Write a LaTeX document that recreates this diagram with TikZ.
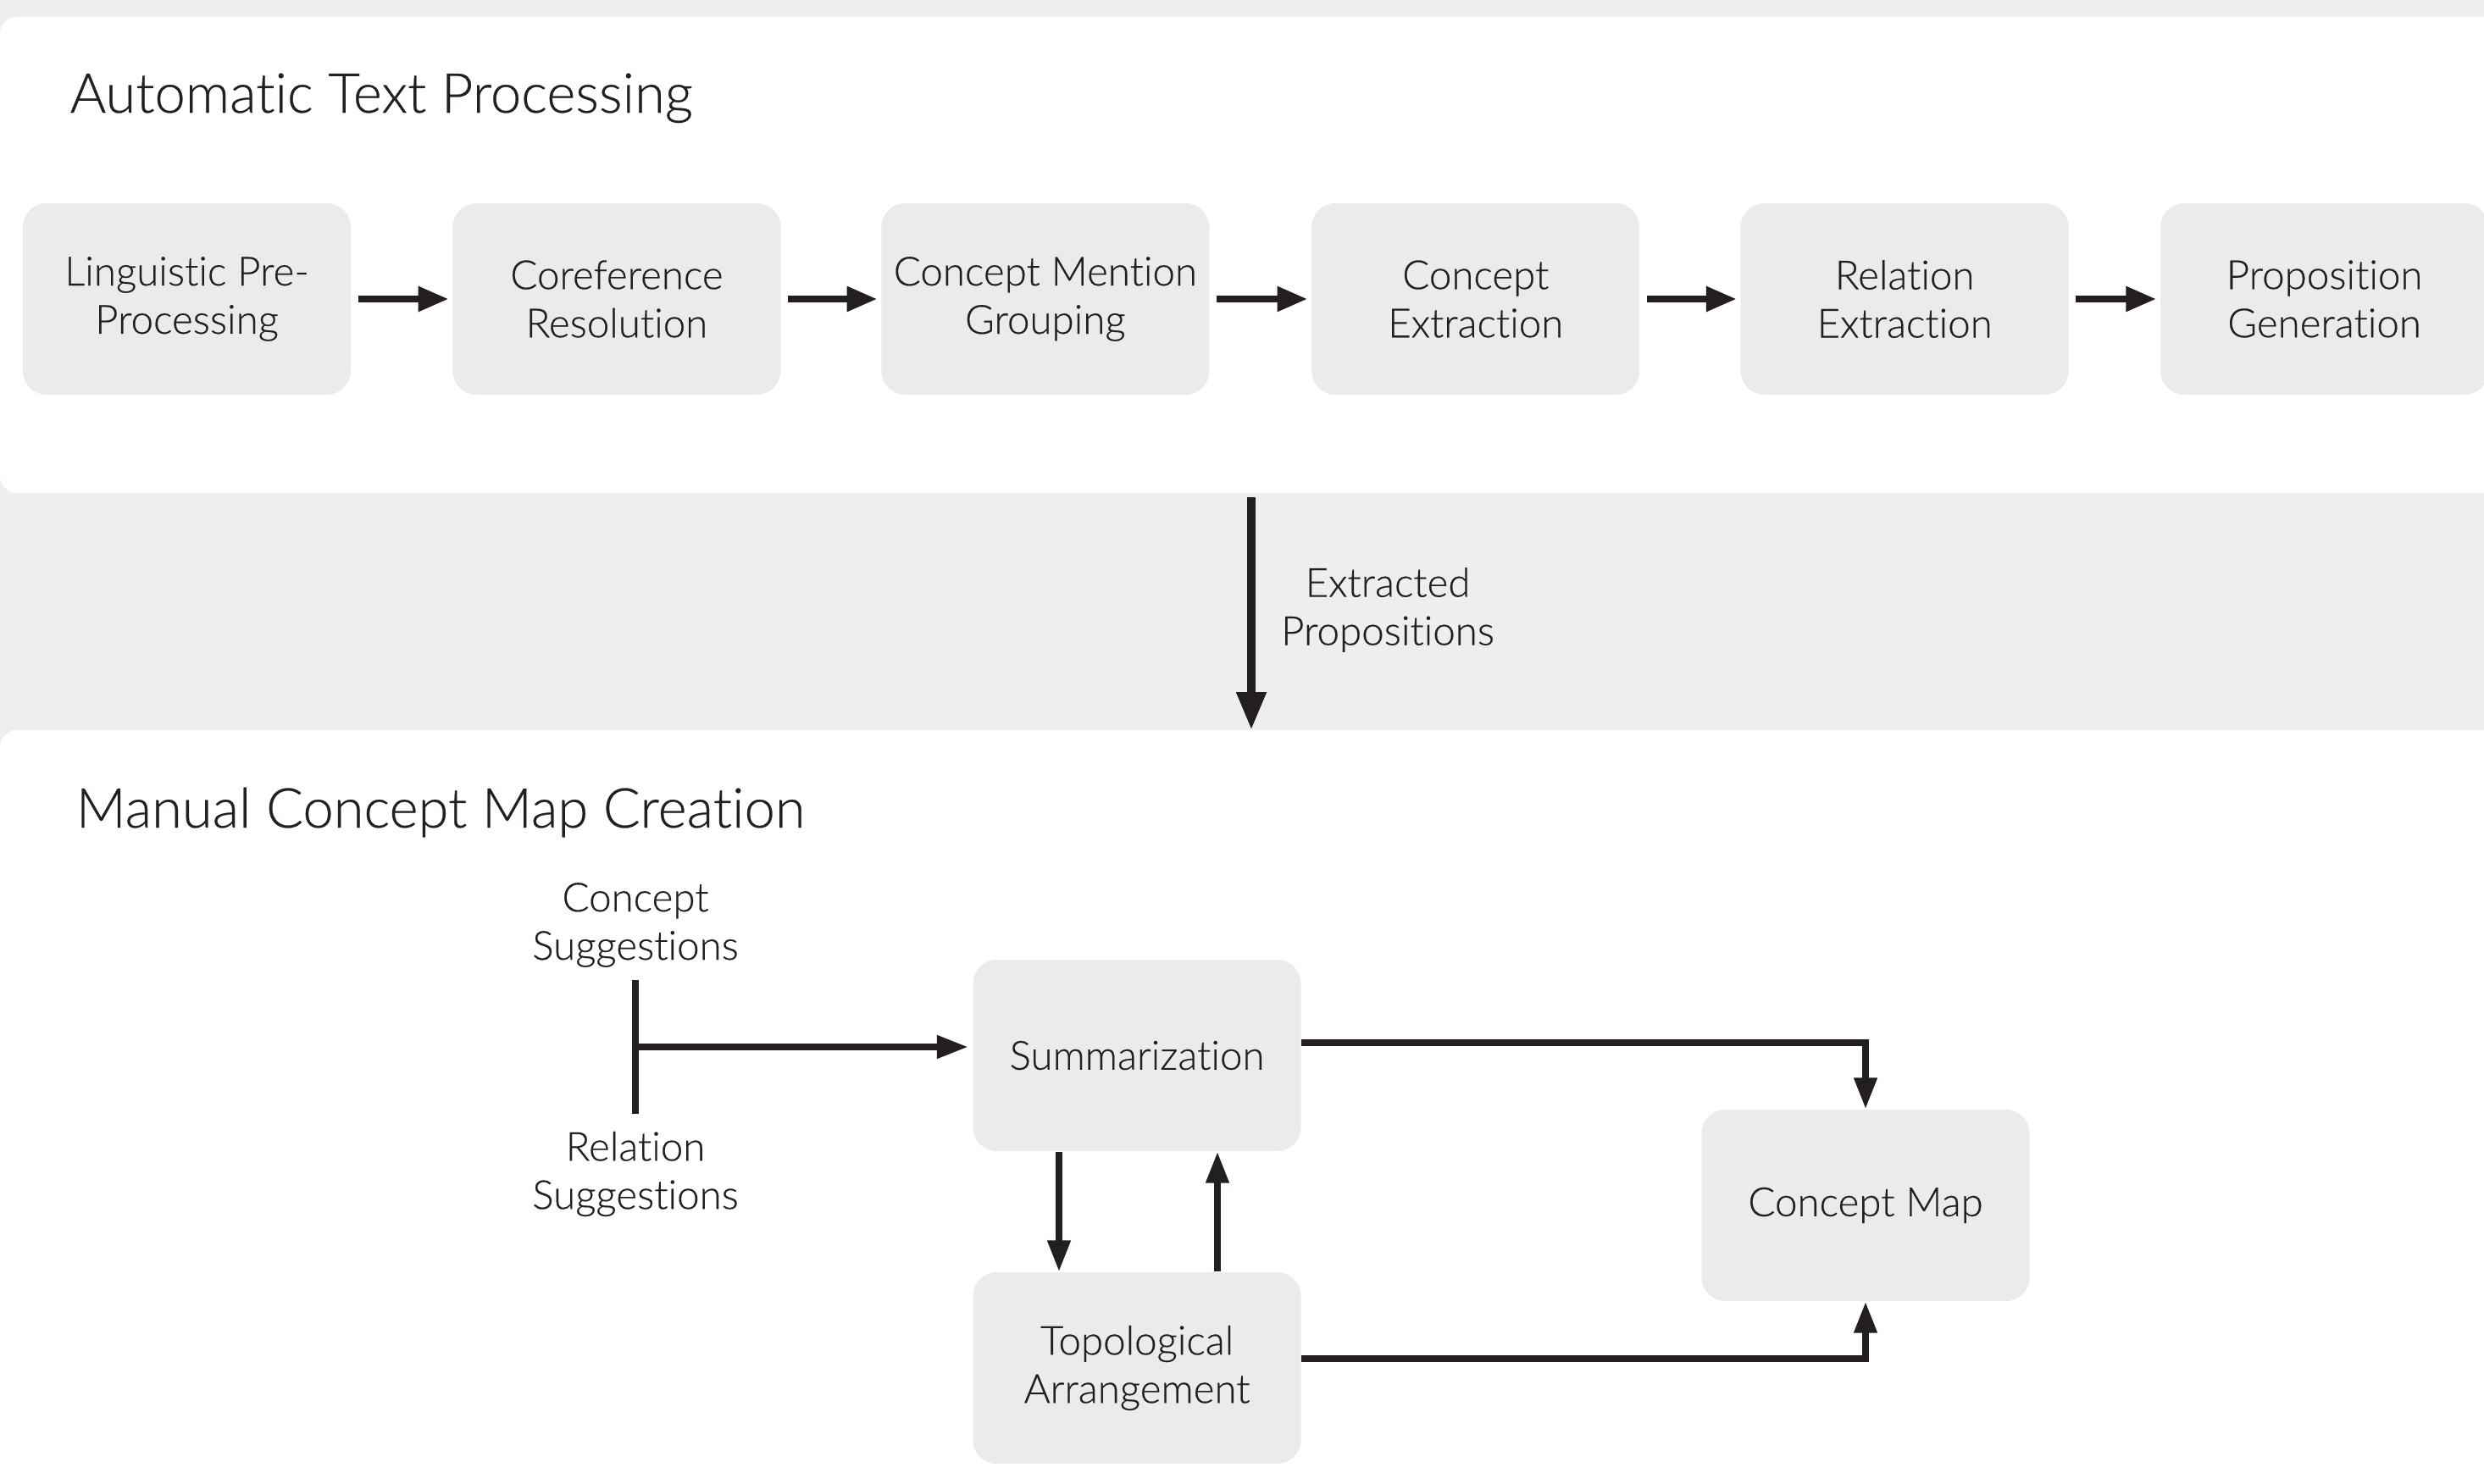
\documentclass[tikz,border=0pt]{standalone}
\usepackage{fontspec}
\IfFontExistsTF{Lato Light}
  {\setmainfont{Lato Light}[Ligatures=NoCommon,FakeBold=0.35]}
  {\setmainfont{Lato}[Ligatures=NoCommon]}
\usetikzlibrary{positioning,arrows.meta,calc}
\definecolor{ink}{HTML}{231F20}
\definecolor{boxgray}{HTML}{EBEBEA}
\definecolor{bandgray}{HTML}{EEEEEE}
\tikzset{
  procbox/.style={rectangle,rounded corners=2.8mm,fill=boxgray,minimum width=3.87cm,
    minimum height=2.26cm,inner sep=0pt,align=center,text=ink,
    font=\fontsize{13.5}{16.2}\selectfont},
  flowarr/.style={-{Triangle[length=3.6mm,width=2.8mm]},line width=2.4pt,draw=ink,
    shorten <=0.8mm,shorten >=0.4mm},
  bigarr/.style={-{Triangle[length=4.5mm,width=3.3mm]},line width=3pt,draw=ink},
  maparr/.style={-{Triangle[length=3.7mm,width=2.6mm]},line width=2.2pt,draw=ink},
  suggbar/.style={line width=2.2pt,draw=ink},
  sectitle/.style={anchor=base west,inner sep=0pt,text=ink,font=\fontsize{18.5}{21}\selectfont},
  sugg/.style={align=center,text=ink,font=\fontsize{13.5}{16.2}\selectfont},
}
\begin{document}
\begin{tikzpicture}
  \useasboundingbox (0,0) rectangle (29.32,-17.52);
  % panels
  \fill[bandgray] (0,0) rectangle (29.32,-17.52);
  \fill[white,rounded corners=2mm] (0,-0.20) rectangle (29.8,-5.82);
  \fill[white,rounded corners=2mm] (0,-8.62) rectangle (29.8,-18.0);

  % automatic part
  \node[sectitle] (autotitle) at (0.82,-1.33) {Automatic Text Processing};
  \node[procbox] (ling) at (2.205,-3.53) {Linguistic Pre-\\Processing};
  \node[procbox,right=1.19cm of ling] (coref) {Coreference\\Resolution};
  \node[procbox,right=1.175cm of coref] (grp) {Concept Mention\\Grouping};
  \node[procbox,right=1.195cm of grp] (cext) {Concept\\Extraction};
  \node[procbox,right=1.18cm of cext] (rext) {Relation\\Extraction};
  \node[procbox,right=1.07cm of rext] (pgen) {Proposition\\Generation};
  \draw[flowarr] (ling) -- (coref);
  \draw[flowarr] (coref) -- (grp);
  \draw[flowarr] (grp) -- (cext);
  \draw[flowarr] (cext) -- (rext);
  \draw[flowarr] (rext) -- (pgen);

  % hand-over
  \coordinate (ptop) at (14.77,-5.87);
  \coordinate (pbot) at (14.77,-8.62);
  \draw[bigarr] (ptop) -- (pbot);
  \node[sugg] (extr) at (16.38,-7.20) {Extracted\\Propositions};

  % manual part
  \node[sectitle] (mantitle) at (0.89,-9.77) {Manual Concept Map Creation};
  \node[sugg] (csugg) at (7.50,-10.92) {Concept\\Suggestions};
  \node[sugg] (rsugg) at (7.50,-13.86) {Relation\\Suggestions};
  \node[procbox] (summ) at (13.42,-12.46) {Summarization};
  \node[procbox] (topo) at (13.42,-16.15) {Topological\\Arrangement};
  \node[procbox] (cmap) at (22.02,-14.23) {Concept Map};

  \coordinate (bartop) at (7.50,-11.57);
  \coordinate (barmid) at (7.50,-12.36);
  \coordinate (barbot) at (7.50,-13.15);
  \draw[suggbar] (bartop) -- (barbot);
  \draw[maparr,shorten >=0.5mm] (barmid) -- (barmid -| summ.west);
  \draw[maparr] ([xshift=-0.92cm]summ.south) -- ([xshift=-0.92cm]topo.north);
  \draw[maparr] ([xshift=0.95cm]topo.north) -- ([xshift=0.95cm]summ.south);
  \draw[maparr] ([yshift=0.15cm]summ.east) -| (cmap.north);
  \draw[maparr] ([yshift=0.11cm]topo.east) -| (cmap.south);
\end{tikzpicture}
\end{document}
